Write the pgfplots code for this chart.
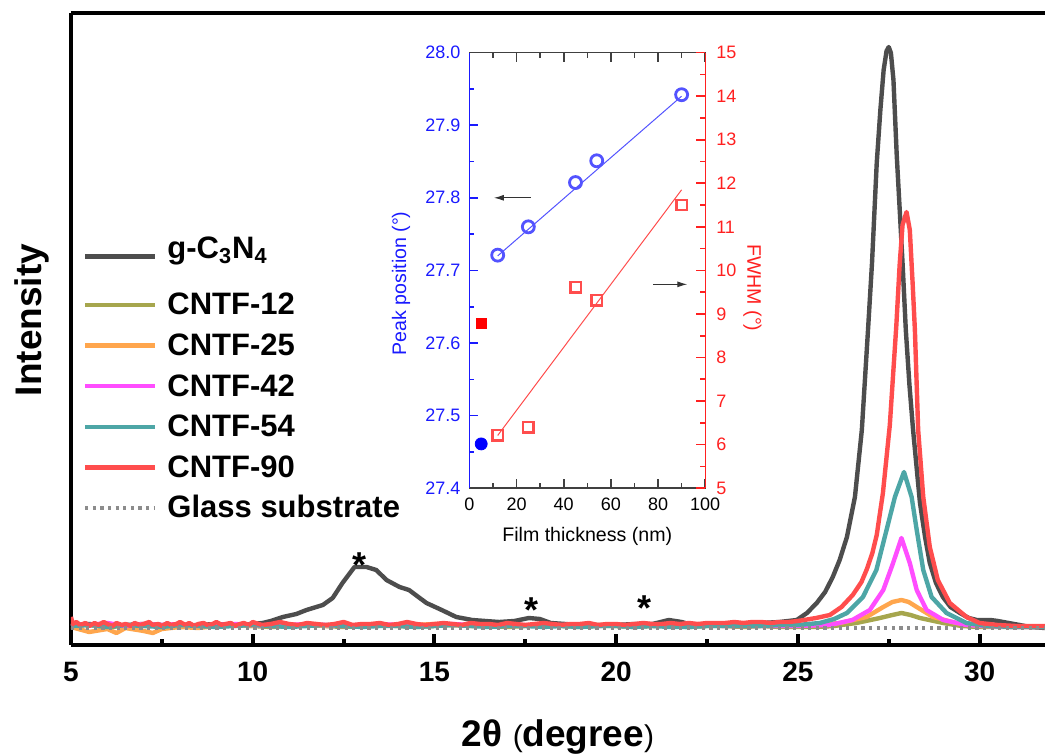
\documentclass[border=0pt]{standalone}
\usepackage{fontspec}
\setmainfont{Liberation Sans}
\usepackage{pgfplots}
\pgfplotsset{compat=1.18}
\usetikzlibrary{arrows.meta}
\definecolor{cGray}{HTML}{4D4D4D}
\definecolor{cOlive}{HTML}{A6A64D}
\definecolor{cOrange}{HTML}{FFA64D}
\definecolor{cMag}{HTML}{FF4DFF}
\definecolor{cTeal}{HTML}{4DA6A6}
\definecolor{cRed}{HTML}{FF4D4D}
\definecolor{cGlass}{HTML}{8C8C8C}
\definecolor{cBlue}{HTML}{1A1AFF}
\definecolor{cAxRed}{HTML}{FF2020}

\begin{document}
\begin{tikzpicture}
\path[use as bounding box] (-35.5pt,-55pt) rectangle (487pt,322.5pt);
% main XRD axis
\begin{axis}[
  scale only axis, width=487pt, height=316pt,
  xmin=5, xmax=31.8, ymin=0, ymax=632,
  axis x line=box, axis y line=left,
  axis line style={line width=2pt,-},
  xtick={5,10,15,20,25,30}, minor xtick={7.5,12.5,17.5,22.5,27.5},
  xtick pos=lower, ytick=\empty,
  tick align=inside, major tick length=5.5pt, minor tick length=3pt,
  tick style={line width=2pt,black},
  /pgf/number format/assume math mode=true,
  xticklabel style={font=\bfseries\fontsize{14}{15}\selectfont, yshift=-5pt},
  xlabel={\textbf{2θ }{\fontsize{15}{16}\selectfont(}\textbf{degree}{\fontsize{15}{16}\selectfont)}},
  xlabel style={font=\fontsize{18.5}{20}\selectfont, at={(axis description cs:0.5,0)}, anchor=base, yshift=-51pt},
  ylabel={Intensity},
  ylabel style={font=\bfseries\fontsize{18.5}{20}\selectfont, at={(axis description cs:-0.0298,0.514)}, anchor=base, rotate=0},
  legend style={at={(axis description cs:0.012,0.652)}, anchor=north west, draw=none, fill=none,
    font=\bfseries\fontsize{15.5}{17}\selectfont, inner sep=0pt, row sep=5.3pt,
    nodes={inner sep=1pt, text height=11.5pt, text depth=1.5pt},
    /tikz/every odd column/.append style={column sep=4pt}},
  legend cell align=left,
  legend image code/.code={\draw[#1] (0pt,0pt) -- (35pt,0pt);},
  every axis plot/.append style={line width=2.2pt, line join=round},
]
\addplot[cGray] table {
5.0 20
5.5 21
6.0 19
6.5 20
7.0 21
7.5 20
8.0 19
8.5 20
9.0 21
9.5 20
10.0 21
10.27 22
10.5 24
10.83 28
11.2 31
11.48 35
11.93 40
12.2 47
12.47 62
12.8 78
13.13 78
13.4 75
13.68 65
14.04 58
14.3 55
14.78 42
15.2 35
15.6 28
16.04 25
16.4 24
16.78 23
17.2 24
17.6 27
17.9 26
18.2 22
18.6 21
19.0 20
19.5 20
20.0 20
20.5 21
21.0 21
21.45 25
21.8 23
22.1 20
22.5 20
23.0 20
23.5 21
24.0 22
24.5 23
24.97 25
25.25 32
25.52 42
25.75 53
25.96 68
26.15 85
26.35 108
26.57 148
26.76 215
26.93 315
27.04 382
27.17 482
27.27 535
27.36 575
27.44 594
27.50 598
27.56 592
27.63 565
27.72 490
27.81 430
27.89 375
27.97 315
28.07 260
28.17 215
28.36 142
28.50 108
28.63 82
28.80 62
28.99 48
29.20 38
29.46 32
29.70 27
29.92 25
30.30 25
30.50 24
30.80 22
31.40 18
31.80 17
};
\addlegendentry[text depth=9.5pt]{g-C\textsubscript{3}N\textsubscript{4}}
\addplot[cOlive] table {
5.0 19
5.5 20
6.0 18
6.5 19
7.0 20
7.5 19
8.0 18
8.5 20
9.0 19
9.5 20
10.0 19
10.5 18
11.0 19
11.5 20
12.0 19
12.5 18
13.0 19
13.5 20
14.0 19
14.5 18
15.0 19
15.5 20
16.0 19
16.5 19
17.0 18
17.5 19
18.0 20
18.5 19
19.0 18
19.5 19
20.0 19
20.5 18
21.0 19
21.5 19
22.0 18
22.5 19
23.0 19
23.5 18
24.0 19
24.5 18
25.0 18
25.5 18
26.0 19
26.61 22
27.26 27
27.6 30
27.85 32
28.1 30
28.36 27
29.0 22
29.5 19
30.0 18
31.0 18
31.8 18
};
\addlegendentry{CNTF-12}
\addplot[cOrange] table {
5.0 18
5.5 13
6.0 16
6.25 12
6.5 17
7.0 14
7.25 12
7.5 16
8.0 18
8.5 17
9.0 19
9.5 20
10.0 19
10.5 20
11.0 19
11.5 20
12.0 19
12.5 20
13.0 19
13.5 20
14.0 19
14.5 20
15.0 21
15.5 20
16.0 19
16.5 20
17.0 19
17.5 20
18.0 19
18.5 20
19.0 19
19.5 20
20.0 19
20.5 20
21.0 19
21.5 20
22.0 19
22.5 20
23.0 19
23.5 19
24.0 20
24.5 19
25.0 19
25.5 20
26.16 22
26.89 28
27.35 38
27.6 43
27.85 45
28.05 43
28.27 38
28.72 28
29.36 22
30.0 19
31.0 18
31.8 18
};
\addlegendentry{CNTF-25}
\addplot[cMag] table {
5.0 21
5.5 20
6.0 22
6.5 19
7.0 21
7.5 20
8.0 21
8.5 19
9.0 20
9.5 21
10.0 20
10.5 19
11.0 20
11.5 21
12.0 20
12.5 19
13.0 20
13.5 21
14.0 20
14.5 19
15.0 20
15.5 21
16.0 20
16.5 19
17.0 20
17.5 20
18.0 19
18.5 20
19.0 20
19.5 19
20.0 20
20.5 19
21.0 20
21.5 19
22.0 19
22.5 20
23.0 19
23.5 19
24.0 19
24.5 19
25.0 19
25.88 20
26.5 25
26.98 35
27.35 55
27.62 82
27.85 107
28.08 82
28.27 55
28.54 35
29.0 25
29.64 20
30.2 19
31.0 18
31.8 18
};
\addlegendentry{CNTF-42}
\addplot[cTeal] table {
5.0 19
5.5 20
6.0 18
6.5 20
7.0 19
7.5 18
8.0 20
8.5 19
9.0 18
9.5 19
10.0 20
10.5 19
11.0 18
11.5 19
12.0 20
12.5 19
13.0 18
13.5 19
14.0 19
14.5 18
15.0 19
15.5 20
16.0 19
16.5 18
17.0 19
17.5 19
18.0 18
18.5 19
19.0 18
19.5 19
20.0 19
20.5 18
21.0 19
21.5 18
22.0 18
22.5 19
23.0 19
23.5 19
24.0 19
24.5 20
25.0 20
25.6 22
26.0 26
26.35 32
26.79 48
27.16 75
27.44 115
27.67 148
27.92 173
28.13 148
28.27 115
28.45 75
28.68 48
29.09 32
29.64 22
30.2 19
31.0 18
31.8 18
};
\addlegendentry{CNTF-54}
\addplot[cRed] table {
5.00 28
5.05 21
5.15 23
5.25 20
5.40 22
5.50 19
5.65 22
5.75 20
5.90 23
6.00 21
6.15 19
6.25 22
6.40 20
6.50 21
6.65 19
6.75 22
6.90 20
7.00 21
7.15 23
7.25 20
7.40 21
7.50 19
7.65 22
7.75 20
7.90 21
8.00 23
8.15 20
8.25 22
8.40 19
8.50 21
8.65 22
8.75 20
8.90 21
9.00 23
9.15 20
9.25 21
9.40 22
9.50 19
9.65 21
9.75 22
9.90 20
10.00 23
10.25 20
10.50 21
10.75 23
11.00 21
11.25 20
11.50 22
11.75 21
12.00 20
12.25 21
12.50 23
12.75 20
13.00 21
13.25 21
13.50 22
13.75 20
14.00 21
14.25 23
14.50 21
14.75 20
15.00 21
15.25 22
15.50 21
15.75 20
16.00 22
16.25 21
16.50 21
16.75 20
17.00 22
17.25 21
17.50 20
17.75 21
18.00 22
18.25 21
18.50 20
18.75 21
19.00 21
19.25 22
19.50 20
19.75 21
20.00 21
20.25 20
20.50 21
20.75 22
21.00 21
21.25 21
21.50 22
21.75 21
22.00 22
22.25 21
22.50 22
22.75 22
23.00 22
23.25 23
23.50 22
23.75 23
24.00 23
24.25 22
24.50 23
24.75 23
25.0 24
25.5 27
25.88 30
26.2 38
26.51 50
26.75 63
26.90 76
27.05 92
27.17 110
27.34 152
27.53 220
27.71 320
27.80 380
27.88 420
27.99 433
28.08 415
28.16 360
28.22 315
28.31 215
28.45 148
28.63 98
28.85 65
29.18 42
29.64 28
30.0 22
30.5 20
31.0 19
31.8 19
};
\addlegendentry{CNTF-90}
\addplot[cGlass, line width=1.6pt, dash pattern=on 1.6pt off 2.2pt, line cap=butt] table {
5.0 17
31.8 17
};
\addlegendentry{Glass substrate}
\node[font=\bfseries\fontsize{18}{18}\selectfont, anchor=base] at (axis cs:12.95,67) {*};
\node[font=\bfseries\fontsize{18}{18}\selectfont, anchor=base] at (axis cs:17.67,22) {*};
\node[font=\bfseries\fontsize{18}{18}\selectfont, anchor=base] at (axis cs:20.79,24) {*};
\end{axis}

% inset, left axis: peak position
\begin{axis}[
  at={(199.2pt,78.4pt)},
  scale only axis, width=117.9pt, height=217.8pt,
  xmin=0, xmax=100, ymin=27.4, ymax=28.0,
  clip=false,
  axis line style={draw=black!75, line width=0.7pt},
  xtick pos=both, ytick pos=left,
  tick align=inside,
  xtick={0,20,40,60,80,100}, minor xtick={10,30,50,70,90},
  ytick={27.4,27.5,27.6,27.7,27.8,27.9,28.0},
  minor ytick={27.45,27.55,27.65,27.75,27.85,27.95},
  major tick length=4.5pt, minor tick length=2.5pt,
  xtick style={draw=black!75, line width=0.8pt},
  ytick style={draw=cBlue, line width=0.8pt},
  /pgf/number format/assume math mode=true,
  xticklabel style={font=\fontsize{9}{10}\selectfont, yshift=-1.5pt},
  yticklabel style={font=\fontsize{9}{10}\selectfont, cBlue, xshift=-1pt,
    /pgf/number format/fixed, /pgf/number format/fixed zerofill, /pgf/number format/precision=1},
  xlabel={Film thickness (nm)},
  xlabel style={font=\fontsize{9.8}{11}\selectfont, at={(axis description cs:0.5,-0.11)}, anchor=center},
  ylabel={Peak position (°)},
  ylabel style={font=\fontsize{9.8}{11}\selectfont, cBlue, at={(axis description cs:-0.29,0.47)}, anchor=center},
]
\draw[cBlue, line width=0.7pt] (rel axis cs:0,0) -- (rel axis cs:0,1);
\addplot[cBlue!75, line width=0.5pt] coordinates {(12,27.72) (90,27.94)};
\addplot[only marks, mark=o, mark size=3pt, draw=cBlue!75, mark options={line width=1.4pt}] coordinates {
(12,27.721) (25,27.760) (45,27.821) (54,27.851) (90,27.942)};
\addplot[only marks, mark=*, mark size=3pt, draw=blue, fill=blue] coordinates {(5,27.461)};
\draw[black!80, line width=0.5pt, -{Latex[length=5pt,width=3pt]}] (axis cs:26,27.80) -- (axis cs:10.4,27.80);
\end{axis}

% inset, right axis: FWHM
\begin{axis}[
  at={(199.2pt,78.4pt)},
  scale only axis, width=117.9pt, height=217.8pt,
  xmin=0, xmax=100, ymin=5, ymax=15,
  clip=false,
  hide x axis,
  axis line style={draw=none},
  ytick pos=right,
  tick align=inside,
  ytick={5,6,...,15}, minor ytick={5.5,6.5,...,14.5},
  major tick length=4.5pt, minor tick length=2.5pt,
  ytick style={draw=cAxRed, line width=0.8pt},
  /pgf/number format/assume math mode=true,
  yticklabel style={font=\fontsize{9}{10}\selectfont, cAxRed, xshift=2pt},
  ylabel={FWHM (°)},
  ylabel style={font=\fontsize{9.8}{11}\selectfont, cAxRed, at={(axis description cs:1.2,0.46)}, anchor=center, rotate=180},
]
\draw[cAxRed, line width=0.7pt] (rel axis cs:1,0) -- (rel axis cs:1,1);
\addplot[cRed, line width=0.5pt] coordinates {(12,6.21) (90,11.85)};
\addplot[only marks, mark=square, mark size=2.6pt, draw=cRed, mark options={line width=1.2pt}] coordinates {
(12,6.21) (25,6.40) (45,9.61) (54,9.31) (90,11.50)};
\addplot[only marks, mark=square*, mark size=2.6pt, draw=red, fill=red] coordinates {(5,8.79)};
\draw[black!80, line width=0.5pt, -{Latex[length=5pt,width=3pt]}] (axis cs:78,9.68) -- (axis cs:92.4,9.68);
\end{axis}
\end{tikzpicture}
\end{document}
